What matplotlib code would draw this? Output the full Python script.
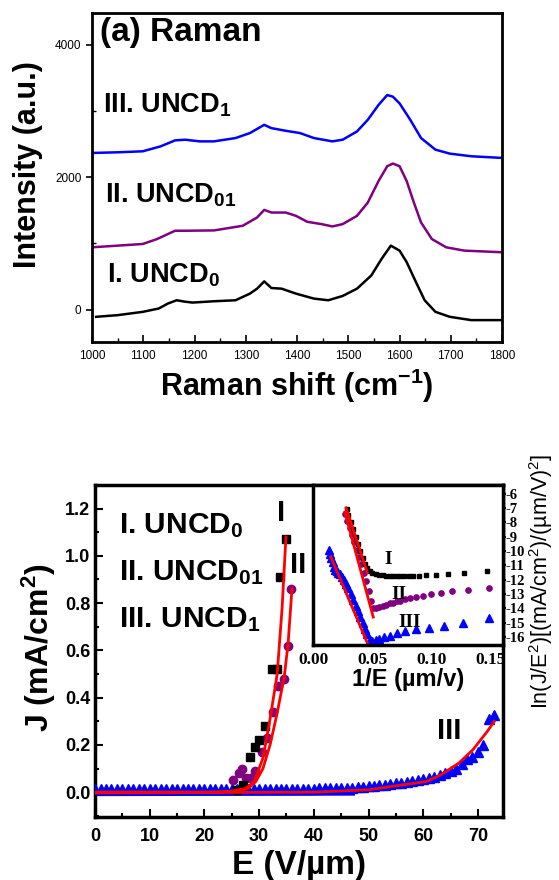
import matplotlib
matplotlib.use("Agg")
import matplotlib.pyplot as plt
from matplotlib.ticker import MultipleLocator, FixedLocator, FormatStrFormatter

plt.rcParams['font.family'] = ['Liberation Sans', 'DejaVu Sans']
plt.rcParams['mathtext.default'] = 'regular'
plt.rcParams['axes.unicode_minus'] = False

# ---- (a) Raman spectra ----
raman_I_x = [1008, 1050, 1099, 1130, 1148, 1165, 1180, 1196, 1238, 1280, 1308, 1322, 1336, 1350,
             1370, 1398, 1433, 1461, 1489, 1517, 1545, 1565, 1583, 1600, 1614, 1632, 1649, 1670,
             1698, 1740, 1800]
raman_I_y = [-110, -85, -35, 15, 90, 140, 120, 105, 125, 140, 240, 315, 425, 325,
             315, 240, 165, 140, 205, 315, 515, 765, 965, 890, 715, 415, 140, -35,
             -110, -160, -160]

raman_II_x = [1000, 1050, 1099, 1127, 1162, 1182, 1238, 1294, 1322, 1336, 1350, 1378, 1398, 1420,
              1448, 1469, 1489, 1517, 1538, 1559, 1576, 1587, 1600, 1614, 1628, 1642, 1663, 1691,
              1726, 1800]
raman_II_y = [940, 965, 990, 1065, 1190, 1190, 1195, 1265, 1390, 1505, 1465, 1465, 1415, 1325,
              1290, 1255, 1290, 1415, 1615, 1940, 2165, 2205, 2165, 1940, 1615, 1315, 1065, 940,
              890, 865]

raman_III_x = [1000, 1050, 1099, 1134, 1162, 1182, 1210, 1238, 1280, 1308, 1336, 1350, 1378, 1406,
               1433, 1469, 1489, 1517, 1538, 1559, 1576, 1587, 1600, 1621, 1642, 1670, 1698, 1740,
               1800]
raman_III_y = [2365, 2375, 2390, 2465, 2555, 2565, 2540, 2540, 2590, 2665, 2790, 2740, 2700, 2665,
               2590, 2540, 2565, 2690, 2865, 3090, 3240, 3215, 3115, 2865, 2590, 2415, 2355, 2315,
               2290]

raman_labels = ["III. UNCD$_1$", "II. UNCD$_{01}$", "I. UNCD$_0$"]
raman_label_x = [1022, 1025, 1030]
raman_label_y = [3080, 1720, 520]

# ---- (b) J-E curves ----
E_I = [26, 27, 28.3, 29.2, 30.0, 31.0, 32.3, 33.3, 33.9, 34.9]
J_I = [0.01, 0.03, 0.15, 0.19, 0.22, 0.28, 0.52, 0.52, 0.91, 1.07]

E_II = [25.2, 26.3, 26.8, 27.6, 28.5, 29.3, 30.5, 31.5, 32.5, 33.5, 34.5, 35.2, 35.9]
J_II = [0.05, 0.08, 0.10, 0.06, 0.06, 0.09, 0.17, 0.23, 0.34, 0.45, 0.48, 0.62, 0.86]

E_III = [0, 1, 2, 3, 4, 5, 6, 7, 8, 9, 10, 11, 12, 13, 14, 15, 16, 17, 18, 19, 20, 21, 22, 23,
         24, 25, 26, 27, 28, 29, 30, 31, 32, 33, 34, 35, 36, 37, 38, 39, 40, 41, 42, 43, 44, 45,
         46, 47, 48, 49, 50, 51, 52, 53, 54, 55, 56, 57, 58, 59, 60, 61, 62, 63, 64, 65, 66, 67,
         68, 69, 70, 71, 72, 73]
J_III = [0.015, 0.015, 0.015, 0.015, 0.015, 0.015, 0.015, 0.015, 0.015, 0.015, 0.015, 0.015,
         0.015, 0.015, 0.015, 0.015, 0.015, 0.015, 0.015, 0.015, 0.015, 0.015, 0.015, 0.015,
         0.015, 0.015, 0.015, 0.015, 0.015, 0.015, 0.015, 0.015, 0.015, 0.015, 0.015, 0.015,
         0.015, 0.015, 0.015, 0.015, 0.015, 0.018, 0.018, 0.018, 0.018, 0.018, 0.018, 0.018,
         0.022, 0.024, 0.026, 0.028, 0.030, 0.032, 0.035, 0.037, 0.040, 0.043, 0.047, 0.050,
         0.055, 0.060, 0.065, 0.072, 0.080, 0.090, 0.100, 0.120, 0.140, 0.150, 0.170, 0.200,
         0.310, 0.325]
E_III_band = [0, 47]
J_III_band = [-0.005, -0.003]

fit_I_E = [0, 22, 25, 27.4, 29.1, 30.7, 32.0, 33.3, 34.2, 34.9]
fit_I_J = [0, 0, 0.004, 0.014, 0.045, 0.144, 0.31, 0.50, 0.78, 1.08]
fit_II_E = [0, 22, 25, 28.1, 29.4, 30.7, 32.0, 33.3, 34.6, 35.3, 36.0]
fit_II_J = [0, 0, 0.004, 0.017, 0.045, 0.10, 0.20, 0.335, 0.49, 0.63, 0.86]
fit_III_E = [0, 40, 50, 54.1, 60.6, 63.2, 66.5, 69.1, 71.7, 73.0]
fit_III_J = [-0.003, 0.0, 0.01, 0.024, 0.045, 0.073, 0.123, 0.18, 0.257, 0.30]

je_labels = ["I. UNCD$_0$", "II. UNCD$_{01}$", "III. UNCD$_1$"]
je_label_y = [1.13, 0.93, 0.73]
curve_tags = ["I", "II", "III"]
curve_tag_E = [34.0, 37.2, 64.8]
curve_tag_J = [1.18, 0.96, 0.26]

# ---- inset: F-N plot ----
fn_I_x = [0.0285, 0.030, 0.032, 0.034, 0.036, 0.038, 0.040, 0.042, 0.044, 0.046, 0.048, 0.050,
          0.053, 0.056, 0.059, 0.062, 0.065, 0.068, 0.071, 0.074, 0.077, 0.081, 0.085, 0.090,
          0.096, 0.104, 0.114, 0.128, 0.147]
fn_I_y = [-7.1, -7.5, -8.0, -8.5, -9.0, -9.5, -10.0, -10.5, -10.9, -11.2, -11.4, -11.55,
          -11.6, -11.65, -11.7, -11.75, -11.75, -11.75, -11.75, -11.75, -11.75, -11.75, -11.75,
          -11.75, -11.7, -11.65, -11.6, -11.5, -11.4]
fn_II_x = [0.027, 0.029, 0.031, 0.033, 0.035, 0.037, 0.039, 0.041, 0.043, 0.045, 0.047, 0.049,
           0.051, 0.053, 0.056, 0.059, 0.062, 0.065, 0.068, 0.071, 0.074, 0.078, 0.082, 0.087,
           0.093, 0.100, 0.108, 0.118, 0.131, 0.149]
fn_II_y = [-7.4, -7.9, -8.4, -8.9, -9.4, -9.9, -10.4, -10.9, -11.5, -12.1, -12.8, -13.5,
           -14.0, -14.0, -13.9, -13.8, -13.75, -13.65, -13.6, -13.5, -13.45, -13.35, -13.3,
           -13.2, -13.1, -13.0, -12.9, -12.8, -12.7, -12.55]
fn_III_x = [0.0135, 0.0145, 0.0155, 0.0165, 0.0175, 0.019, 0.020, 0.0215, 0.023, 0.0245, 0.026,
            0.028, 0.030, 0.032, 0.034, 0.036, 0.038, 0.040, 0.042, 0.044, 0.046, 0.048, 0.050,
            0.053, 0.056, 0.060, 0.065, 0.071, 0.078, 0.087, 0.098, 0.111, 0.127, 0.149]
fn_III_y = [-9.9, -10.2, -10.5, -10.8, -11.1, -11.3, -11.4, -11.5, -11.6, -11.8, -12.0, -12.3,
            -12.6, -13.0, -13.4, -13.8, -14.2, -14.6, -15.0, -15.4, -15.8, -16.2, -16.3, -16.2,
            -16.1, -16.0, -15.9, -15.7, -15.55, -15.4, -15.35, -15.2, -15.0, -14.7]
fnfit_I_x = [0.028, 0.046]
fnfit_I_y = [-7.0, -11.5]
fnfit_II_x = [0.027, 0.051]
fnfit_II_y = [-7.3, -14.6]
fnfit_III_x = [0.015, 0.0465]
fnfit_III_y = [-10.4, -16.5]
fn_tag_x = [0.064, 0.073, 0.082]
fn_tag_y = [-10.6, -13.0, -15.0]

blue = "#0000ff"
purple = "#800080"
red = "#ff0000"
serif = ["Liberation Serif", "DejaVu Serif"]

fig = plt.figure(figsize=(5.59, 8.8), dpi=100)

# ---------------- top panel ----------------
ax1 = fig.add_axes([0.1646, 0.6114, 0.7335, 0.3739])
ax1.plot(raman_I_x, raman_I_y, color="black", lw=1.8)
ax1.plot(raman_II_x, raman_II_y, color=purple, lw=1.8)
ax1.plot(raman_III_x, raman_III_y, color=blue, lw=1.8)
ax1.set_xlim(1000, 1800)
ax1.set_ylim(-490, 4480)
ax1.xaxis.set_major_locator(MultipleLocator(100))
ax1.xaxis.set_minor_locator(MultipleLocator(50))
ax1.yaxis.set_major_locator(FixedLocator([0, 2000, 4000]))
ax1.yaxis.set_minor_locator(FixedLocator([1000, 3000]))
ax1.tick_params(axis="x", which="both", direction="in", top=False, labelsize=8.5, pad=6)
ax1.tick_params(axis="x", which="major", length=5, width=1.2)
ax1.tick_params(axis="x", which="minor", length=3, width=1.0)
ax1.tick_params(axis="y", which="major", direction="out", right=False, length=4, width=1.2, labelsize=8.5)
ax1.tick_params(axis="y", which="minor", direction="in", right=False, length=3, width=1.0)
for s in ax1.spines.values():
    s.set_linewidth(2)
for lab, lx, ly in zip(raman_labels, raman_label_x, raman_label_y):
    ax1.text(lx, ly, lab, fontsize=19.5, fontweight="bold", va="center", ha="left")
ax1.text(1015, 4190, "(a) Raman", fontsize=24, fontweight="bold", va="center", ha="left")
ax1.set_ylabel("Intensity (a.u.)", fontsize=22, fontweight="bold")
ax1.yaxis.set_label_coords(-0.12, 0.54)
ax1.set_xlabel("Raman shift (cm$^{-1}$)", fontsize=22, fontweight="bold")
ax1.xaxis.set_label_coords(0.5, -0.075)

# ---------------- bottom panel ----------------
ax2 = fig.add_axes([0.170, 0.0716, 0.730, 0.3773])
ax2.plot(E_III_band, J_III_band, color=blue, lw=4, zorder=2)
ax2.plot(E_III, J_III, ls="none", marker="^", ms=6.5, color=blue, zorder=3)
ax2.plot(E_II, J_II, ls="none", marker="o", ms=6, color=purple, zorder=3)
ax2.plot(E_I, J_I, ls="none", marker="s", ms=5.5, color="black", zorder=3)
ax2.plot(fit_III_E, fit_III_J, color=red, lw=2, zorder=4)
ax2.plot(fit_II_E, fit_II_J, color=red, lw=2, zorder=4)
ax2.plot(fit_I_E, fit_I_J, color=red, lw=2, zorder=4)
ax2.set_xlim(0, 74.6)
ax2.set_ylim(-0.105, 1.3)
ax2.xaxis.set_major_locator(MultipleLocator(10))
ax2.xaxis.set_minor_locator(MultipleLocator(5))
ax2.yaxis.set_major_locator(MultipleLocator(0.2))
ax2.yaxis.set_minor_locator(MultipleLocator(0.1))
ax2.yaxis.set_major_formatter(FormatStrFormatter("%.1f"))
ax2.tick_params(which="both", direction="in", top=False, right=False, labelsize=13, width=1.5)
ax2.tick_params(which="major", length=6)
ax2.tick_params(which="minor", length=3)
ax2.tick_params(axis="x", pad=8)
for lab in ax2.get_xticklabels() + ax2.get_yticklabels():
    lab.set_fontweight("bold")
for s in ax2.spines.values():
    s.set_linewidth(2.5)
for lab, ly in zip(je_labels, je_label_y):
    ax2.text(4.4, ly, lab, fontsize=21.5, fontweight="bold", va="center", ha="left")
for tag, tx, ty in zip(curve_tags, curve_tag_E, curve_tag_J):
    ax2.text(tx, ty, tag, fontsize=21, fontweight="bold", va="center", ha="center")
ax2.set_ylabel("J (mA/cm$^2$)", fontsize=23, fontweight="bold")
ax2.yaxis.set_label_coords(-0.09, 0.51)
ax2.set_xlabel("E (V/\u00b5m)", fontsize=24, fontweight="bold")
ax2.xaxis.set_label_coords(0.5, -0.1)

# ---------------- inset ----------------
ax3 = fig.add_axes([0.560, 0.267, 0.340, 0.1819])
ax3.plot(fn_III_x, fn_III_y, ls="none", marker="^", ms=5.5, color=blue)
ax3.plot(fn_II_x, fn_II_y, ls="none", marker="o", ms=3.8, color=purple)
ax3.plot(fn_I_x, fn_I_y, ls="none", marker="s", ms=3.5, color="black")
ax3.plot(fnfit_I_x, fnfit_I_y, color=red, lw=2)
ax3.plot(fnfit_II_x, fnfit_II_y, color=red, lw=2)
ax3.plot(fnfit_III_x, fnfit_III_y, color=red, lw=2)
ax3.set_xlim(0, 0.161)
ax3.set_ylim(-16.55, -5.4)
ax3.xaxis.set_major_locator(FixedLocator([0.0, 0.05, 0.10, 0.15]))
ax3.xaxis.set_major_formatter(FormatStrFormatter("%.2f"))
ax3.yaxis.set_major_locator(MultipleLocator(1))
ax3.yaxis.tick_right()
ax3.tick_params(axis="x", direction="in", length=0, labelsize=12.5, pad=5)
ax3.tick_params(axis="y", direction="out", length=2, width=1.5, labelsize=10.5, pad=0)
for lab in ax3.get_xticklabels() + ax3.get_yticklabels():
    lab.set_fontweight("bold")
    lab.set_family(serif)
for s in ax3.spines.values():
    s.set_linewidth(2.5)
for tag, tx, ty in zip(curve_tags, fn_tag_x, fn_tag_y):
    ax3.text(tx, ty, tag, fontsize=14, fontweight="bold", family=serif, va="center", ha="center")
ax3.set_xlabel("1/E (\u00b5m/v)", fontsize=17, fontweight="bold", labelpad=0)
fig.text(0.968, 0.339, "In(J/E$^2$)[(mA/cm$^2$)/(\u00b5m/V)$^2$]", rotation=90,
         fontsize=15.5, va="center", ha="center")

fig.savefig("out.png", dpi=100)
